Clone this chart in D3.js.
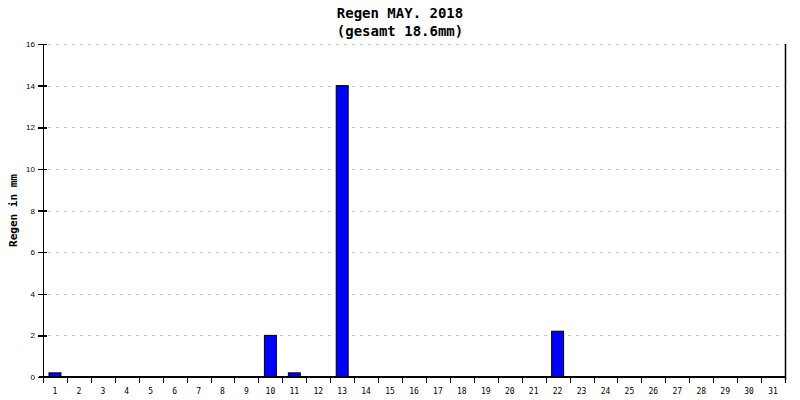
<!DOCTYPE html>
<html lang="de">
<head>
<meta charset="UTF-8">
<title>Regen MAY. 2018</title>
<script src="https://d3js.org/d3.v7.min.js"></script>
<style>
    body { margin: 0; background: #fff; }
    svg { display: block; font-family: "DejaVu Sans Mono", "Liberation Mono", monospace; }
    .grid line { stroke: #c4c4c4; stroke-dasharray: 3 5; }
    .axis path, .axis line { stroke: #000; stroke-width: 1.5px; shape-rendering: crispEdges; }
    .axis text { font-size: 8px; fill: #000; }
</style>
</head>
<body>
<script>
    const days = d3.range(1, 32).map(String);
    const rain = [0.2, 0, 0, 0, 0, 0, 0, 0, 0, 2.0, 0.2, 0, 14.0, 0, 0, 0, 0, 0, 0, 0, 0, 2.2,
                  0, 0, 0, 0, 0, 0, 0, 0, 0];
    const yTicks = [0, 2, 4, 6, 8, 10, 12, 14, 16];
    const titleLines = ["Regen MAY. 2018", "(gesamt 18.6mm)"];
    const yLabel = "Regen in mm";

    const width = 800, height = 400;
    const margin = { top: 44, right: 15, bottom: 23, left: 43 };

    const svg = d3.select("body").append("svg")
        .attr("width", width)
        .attr("height", height);

    const x = d3.scaleBand()
        .domain(days)
        .range([margin.left, width - margin.right])
        .paddingInner(0.5)
        .paddingOuter(0.25);

    const y = d3.scaleLinear()
        .domain([0, 16])
        .range([height - margin.bottom, margin.top]);

    // horizontal grid
    svg.append("g").attr("class", "grid")
        .selectAll("line")
        .data(yTicks.filter(d => d > 0))
        .join("line")
        .attr("x1", margin.left + 5)
        .attr("x2", width - margin.right)
        .attr("y1", d => Math.round(y(d)) + 0.5)
        .attr("y2", d => Math.round(y(d)) + 0.5);

    // bars
    svg.append("g")
        .selectAll("rect")
        .data(rain.map((v, i) => ({ day: days[i], v })).filter(d => d.v > 0))
        .join("rect")
        .attr("x", d => x(d.day))
        .attr("y", d => y(d.v))
        .attr("width", x.bandwidth())
        .attr("height", d => y(0) - y(d.v))
        .attr("fill", "#0000ff")
        .attr("stroke", "#000")
        .attr("stroke-width", 1);

    // y axis
    const yAxis = svg.append("g").attr("class", "axis")
        .attr("transform", `translate(${margin.left},0)`)
        .call(d3.axisLeft(y).tickValues(yTicks).tickSize(5).tickSizeOuter(0));
    yAxis.selectAll(".tick line").attr("x1", 4);
    yAxis.selectAll("text").attr("x", -8);

    // x axis: ticks on day boundaries, labels centered in each day
    const step = x.step();
    const xAxis = svg.append("g").attr("class", "axis")
        .attr("transform", `translate(0,${y(0)})`);
    xAxis.append("line")
        .attr("x1", margin.left - 4).attr("x2", width - margin.right)
        .attr("y1", 0).attr("y2", 0);
    xAxis.selectAll(".tk")
        .data(d3.range(days.length + 1))
        .join("line")
        .attr("class", "tk")
        .attr("x1", i => Math.round(margin.left + i * step) + 0.5)
        .attr("x2", i => Math.round(margin.left + i * step) + 0.5)
        .attr("y1", 0).attr("y2", 6);
    xAxis.selectAll("text")
        .data(days)
        .join("text")
        .attr("x", d => x(d) + x.bandwidth() / 2)
        .attr("y", 17)
        .attr("text-anchor", "middle")
        .text(d => d);

    // right frame line
    svg.append("line")
        .attr("x1", width - margin.right + 0.5).attr("x2", width - margin.right + 0.5)
        .attr("y1", margin.top).attr("y2", y(0) + 3)
        .attr("stroke", "#000").attr("stroke-width", 1.5);

    // title
    svg.append("g").selectAll("text")
        .data(titleLines)
        .join("text")
        .attr("x", width / 2)
        .attr("y", (d, i) => 18 + i * 18)
        .attr("text-anchor", "middle")
        .attr("font-size", 14)
        .attr("font-weight", 600)
        .text(d => d);

    // y label
    svg.append("text")
        .attr("transform", `translate(17,${(margin.top + y(0)) / 2}) rotate(-90)`)
        .attr("text-anchor", "middle")
        .attr("font-size", 11)
        .attr("font-weight", "bold")
        .text(yLabel);
</script>
</body>
</html>
